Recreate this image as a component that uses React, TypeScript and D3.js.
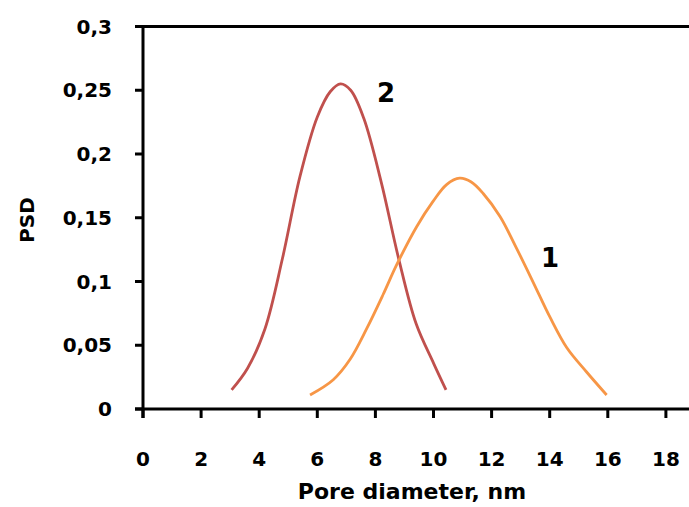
import React from "react";
import * as d3 from "d3";

const xTicks = [0, 2, 4, 6, 8, 10, 12, 14, 16, 18];
const yTicks = [0, 0.05, 0.1, 0.15, 0.2, 0.25, 0.3];

// Series 1 (orange)
const s1x = [5.75, 6.55, 7.13, 7.7, 8.27, 8.73, 9.42, 9.99, 10.45, 10.9, 11.3, 11.71, 12.29, 12.86, 13.44, 14.01, 14.59, 15.27, 15.96];
const s1y = [0.011, 0.023, 0.039, 0.063, 0.09, 0.113, 0.143, 0.163, 0.176, 0.181, 0.178, 0.169, 0.151, 0.126, 0.099, 0.072, 0.048, 0.029, 0.011];

// Series 2 (red)
const s2x = [3.05, 3.6, 4.2, 4.8, 5.4, 6.0, 6.45, 6.8, 7.15, 7.6, 8.2, 8.8, 9.4, 10.0, 10.43];
const s2y = [0.015, 0.032, 0.063, 0.118, 0.182, 0.229, 0.249, 0.255, 0.25, 0.228, 0.178, 0.118, 0.067, 0.036, 0.015];

const W = 689;
const H = 507;
const FONT = "'DejaVu Sans', Verdana, sans-serif";

export default function App() {
  const x = d3.scaleLinear().domain([0, 20]).range([143, 724]);
  const y = d3.scaleLinear().domain([0, 0.3]).range([409, 26.5]);
  const line = d3
    .line<[number, number]>()
    .x((d) => x(d[0]))
    .y((d) => y(d[1]))
    .curve(d3.curveCatmullRom.alpha(0.5));
  const d1 = line(s1x.map((v, i) => [v, s1y[i]] as [number, number])) || "";
  const d2 = line(s2x.map((v, i) => [v, s2y[i]] as [number, number])) || "";
  const fmt = (v: number) => String(v).replace(".", ",");

  return (
    <svg
      width={W}
      height={H}
      style={{ position: "absolute", left: 0, top: 0, background: "#fff" }}
      fontFamily={FONT}
      fontWeight="bold"
    >
      <rect x={0} y={0} width={W} height={H} fill="#fff" />
      {/* top frame line */}
      <line x1={135} x2={W} y1={y(0.3)} y2={y(0.3)} stroke="#000" strokeWidth={3} />
      {/* axes */}
      <line x1={x(0)} x2={x(0)} y1={y(0.3)} y2={y(0) + 9} stroke="#000" strokeWidth={3} />
      <line x1={135} x2={W} y1={y(0)} y2={y(0)} stroke="#000" strokeWidth={3} />
      {yTicks.map((t) => (
        <g key={"y" + t}>
          <line x1={135} x2={x(0)} y1={y(t)} y2={y(t)} stroke="#000" strokeWidth={3} />
          <text x={112} y={y(t)} dy="0.36em" textAnchor="end" fontSize={20} fill="#000">
            {fmt(t)}
          </text>
        </g>
      ))}
      {xTicks.map((t) => (
        <g key={"x" + t}>
          <line x1={x(t)} x2={x(t)} y1={y(0)} y2={y(0) + 9} stroke="#000" strokeWidth={3} />
          <text x={x(t)} y={466} textAnchor="middle" fontSize={20} fill="#000">
            {t}
          </text>
        </g>
      ))}
      <text x={412} y={499} textAnchor="middle" fontSize={22} fill="#000">
        Pore diameter, nm
      </text>
      <text
        transform="translate(34,220) rotate(-90)"
        textAnchor="middle"
        fontSize={20}
        fill="#000"
      >
        PSD
      </text>
      <path d={d2} fill="none" stroke="#C0504D" strokeWidth={2.8} />
      <path d={d1} fill="none" stroke="#F79646" strokeWidth={2.8} />
      <text x={386} y={102} textAnchor="middle" fontSize={26} fill="#000">
        2
      </text>
      <text x={550} y={267} textAnchor="middle" fontSize={26} fill="#000">
        1
      </text>
    </svg>
  );
}
